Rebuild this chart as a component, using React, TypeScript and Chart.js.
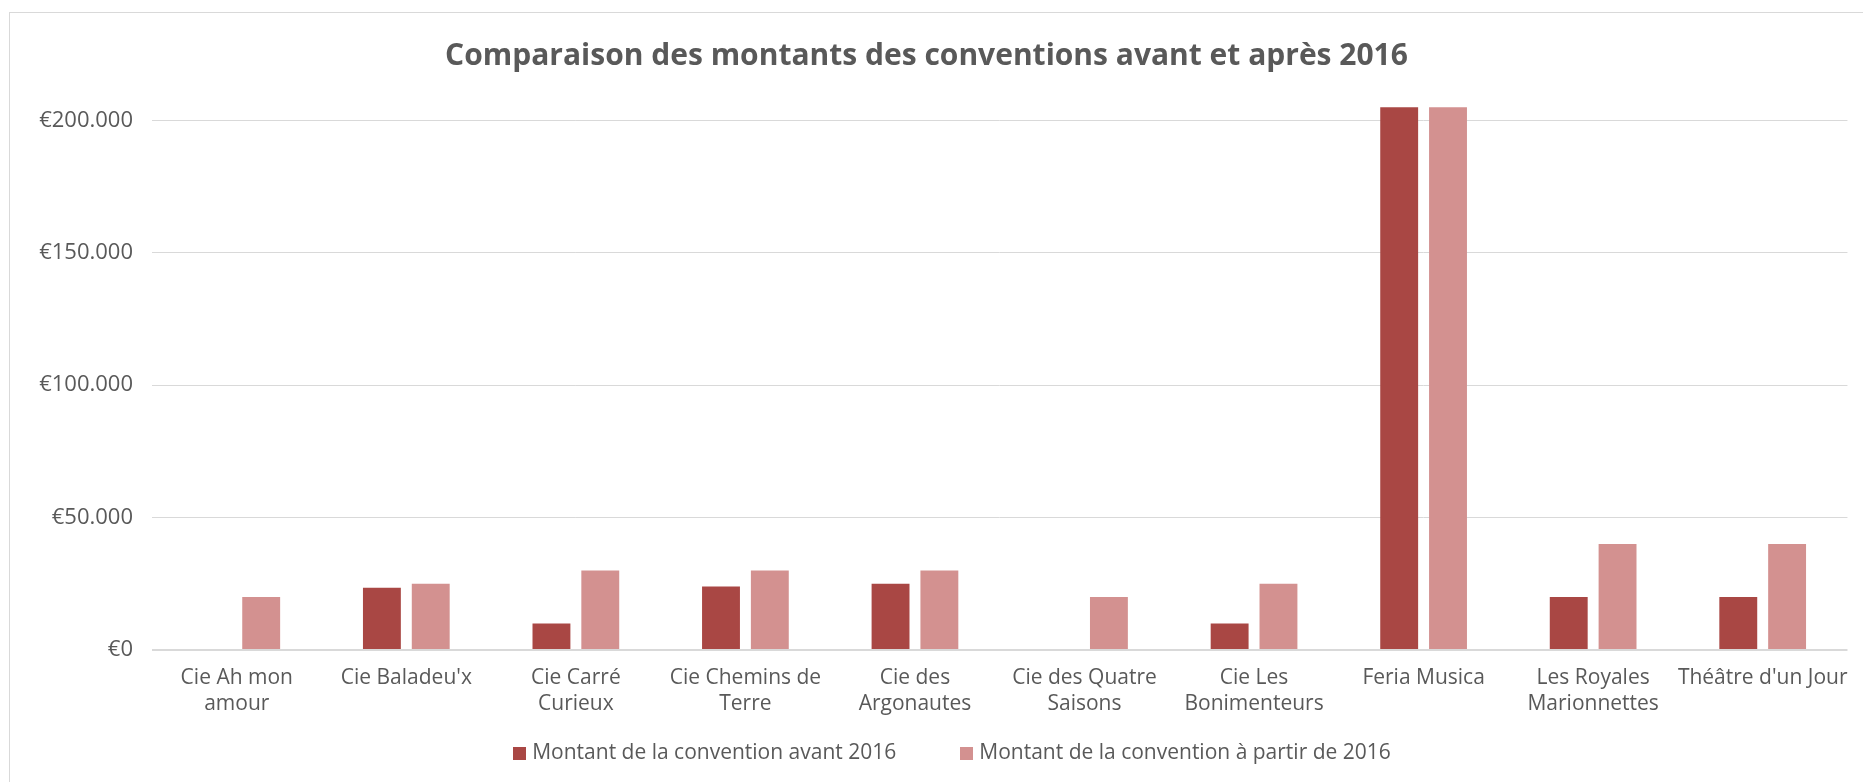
import React, { useEffect, useRef } from "react";
import { Chart, registerables } from "chart.js";

Chart.register(...registerables);

// ---------- Data ----------
const titleText = "Comparaison des montants des conventions avant et après 2016";

const categories: string[][] = [
  ["Cie Ah mon", "amour"],
  ["Cie Baladeu'x"],
  ["Cie Carré", "Curieux"],
  ["Cie Chemins de", "Terre"],
  ["Cie des", "Argonautes"],
  ["Cie des Quatre", "Saisons"],
  ["Cie Les", "Bonimenteurs"],
  ["Feria Musica"],
  ["Les Royales", "Marionnettes"],
  ["Théâtre d'un Jour"],
];

const seriesBeforeLabel = "Montant de la convention avant 2016";
const seriesAfterLabel = "Montant de la convention à partir de 2016";

const seriesBefore: (number | null)[] = [null, 23500, 10000, 24000, 25000, null, 10000, 205000, 20000, 20000];
const seriesAfter: number[] = [20000, 25000, 30000, 30000, 30000, 20000, 25000, 205000, 40000, 40000];

const yTickValues: number[] = [0, 50000, 100000, 150000, 200000];

// ---------- Styles ----------
const FONT = "'Open Sans', sans-serif";
const TEXT = "#595959";
const GRID = "#D9D9D9";
const DARK = "#A94744";
const LIGHT = "#D39190";
const LEGEND_CX = 952;
const LEGEND_CY = 753;

const formatEuro = (v: number) =>
  "€" + String(Math.round(v)).replace(/\B(?=(\d{3})+(?!\d))/g, ".");

const legendPlugin = {
  id: "customLegend",
  afterDraw(chart: any) {
    const ctx = chart.ctx as CanvasRenderingContext2D;
    ctx.save();
    ctx.font = `21px ${FONT}`;
    const items = chart.data.datasets.map((ds: any) => ({
      label: ds.label as string,
      color: ds.backgroundColor as string,
    }));
    const box = 13;
    const gapBoxText = 6;
    const gapItems = 64;
    const widths = items.map((it: any) => box + gapBoxText + ctx.measureText(it.label).width);
    const total = widths.reduce((a: number, b: number) => a + b, 0) + gapItems * (items.length - 1);
    let x = LEGEND_CX - total / 2;
    items.forEach((it: any, i: number) => {
      ctx.fillStyle = it.color;
      ctx.fillRect(Math.round(x), Math.round(LEGEND_CY - box / 2), box, box);
      ctx.fillStyle = TEXT;
      ctx.textAlign = "left";
      ctx.textBaseline = "middle";
      ctx.fillText(it.label, x + box + gapBoxText, LEGEND_CY);
      x += widths[i] + gapItems;
    });
    ctx.restore();
  },
};

export default function App() {
  const canvasRef = useRef<HTMLCanvasElement | null>(null);

  useEffect(() => {
    if (!canvasRef.current) return;
    const chart = new Chart(canvasRef.current, {
      type: "bar",
      data: {
        labels: categories,
        datasets: [
          {
            label: seriesBeforeLabel,
            data: seriesBefore,
            backgroundColor: DARK,
            categoryPercentage: 0.576,
            barPercentage: 0.776,
          },
          {
            label: seriesAfterLabel,
            data: seriesAfter,
            backgroundColor: LIGHT,
            categoryPercentage: 0.576,
            barPercentage: 0.776,
          },
        ],
      },
      options: {
        responsive: false,
        animation: false,
        layout: { padding: { top: 0, left: 0, right: 10, bottom: 50 } },
        plugins: {
          legend: { display: false },
          tooltip: { enabled: false },
          title: {
            display: true,
            text: titleText,
            color: TEXT,
            font: { family: FONT, size: 30, weight: "bold", lineHeight: 1.2 },
            padding: { top: 38, bottom: 20 },
          },
        },
        scales: {
          x: {
            grid: { display: false, drawTicks: false },
            border: { display: false },
            ticks: {
              color: TEXT,
              font: { family: FONT, size: 21, lineHeight: 1.24 },
              padding: 15,
              maxRotation: 0,
              autoSkip: false,
            },
          },
          y: {
            min: 0,
            max: 210000,
            afterBuildTicks: (axis: any) => {
              axis.ticks = yTickValues.map((v) => ({ value: v }));
            },
            afterFit: (scale: any) => {
              scale.width = 152;
            },
            grid: {
              color: GRID,
              lineWidth: (ctx: any) => (ctx.tick && ctx.tick.value === 0 ? 2 : 1),
              drawTicks: false,
            },
            border: { display: false },
            ticks: {
              color: TEXT,
              font: { family: FONT, size: 22 },
              padding: 19,
              callback: (v: any) => formatEuro(Number(v)),
            },
          },
        },
      },
      plugins: [legendPlugin],
    });
    return () => chart.destroy();
  }, []);

  return (
    <div style={{ position: "fixed", left: 0, top: 0, width: 1863, height: 782, background: "#fff", overflow: "hidden" }}>
      <div
        style={{
          position: "absolute",
          left: 9,
          top: 12,
          width: 1900,
          height: 900,
          border: `1px solid ${GRID}`,
          boxSizing: "border-box",
        }}
      />
      <canvas
        ref={canvasRef}
        width={1863}
        height={782}
        style={{ position: "absolute", left: 0, top: 0, width: 1863, height: 782 }}
      />
    </div>
  );
}
